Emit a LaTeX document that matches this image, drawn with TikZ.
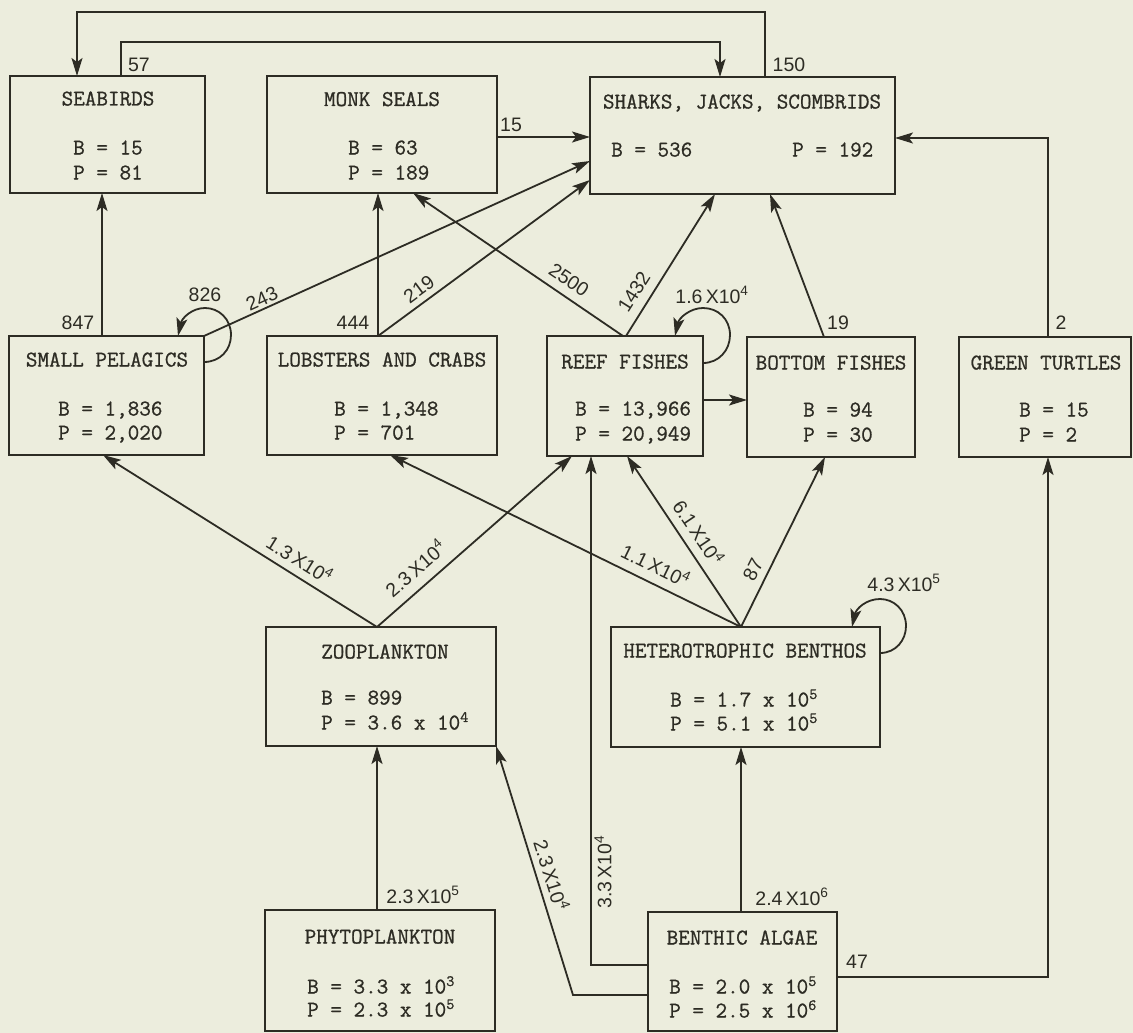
\documentclass[tikz,border=0pt]{standalone}
\usepackage{fontspec}
\newfontfamily\lblfont{Liberation Sans}
\newfontfamily\tyfont[FakeBold=0.9]{Latin Modern Mono}
\usetikzlibrary{arrows.meta}
\definecolor{bg}{RGB}{236,237,221}
\definecolor{ink}{RGB}{45,44,36}
\newcommand\xten[2]{#1\,X10\textsuperscript{#2}}
\begin{document}
\begin{tikzpicture}[x=1pt,y=-1pt,
  box/.style={draw=ink, line width=2.4pt, inner sep=0pt, outer sep=0pt},
  ttl/.style={font=\tyfont\fontsize{22.5}{27}\selectfont, text=ink, inner sep=0pt, anchor=base},
  dat/.style={font=\tyfont\fontsize{22.5}{27}\selectfont, text=ink, inner sep=0pt, anchor=base west},
  lbl/.style={font=\lblfont\fontsize{19.5}{21}\selectfont, text=ink, inner sep=0pt},
  ln/.style={draw=ink, line width=1.8pt},
  arr/.style={draw=ink, line width=1.8pt, -{Stealth[length=18pt,width=11pt,inset=4pt]}}]
\fill[bg] (0,0) rectangle (1133,1033);
\useasboundingbox (0,0) rectangle (1133,1033);

% boxes
\node[box, minimum width=195pt, minimum height=117pt] (sb) at (107.5,134.5) {};
\node[box, minimum width=230pt, minimum height=117pt] (ms) at (382,134.5) {};
\node[box, minimum width=305pt, minimum height=117pt] (sh) at (742.5,135.5) {};
\node[box, minimum width=195pt, minimum height=119pt] (sp) at (106.5,395.5) {};
\node[box, minimum width=230pt, minimum height=119pt] (lc) at (382,395.5) {};
\node[box, minimum width=156pt, minimum height=120pt] (rf) at (625,396) {};
\node[box, minimum width=168pt, minimum height=120pt] (bf) at (831,397) {};
\node[box, minimum width=172pt, minimum height=120pt] (gt) at (1045,397) {};
\node[box, minimum width=230pt, minimum height=119pt] (zp) at (381,686.5) {};
\node[box, minimum width=269pt, minimum height=120pt] (hb) at (745.5,687) {};
\node[box, minimum width=230pt, minimum height=121pt] (ph) at (380,970.5) {};
\node[box, minimum width=189pt, minimum height=119pt] (ba) at (742.5,971.5) {};

% box texts
\node[ttl] (sb-t) at (108,105.5) {SEABIRDS};
\node[dat] (sb-b) at (73,154.5) {B = 15};
\node[dat] (sb-p) at (73,179.5) {P = 81};
\node[ttl] (ms-t) at (382,106) {MONK SEALS};
\node[dat] (ms-b) at (348,154.5) {B = 63};
\node[dat] (ms-p) at (348,179.5) {P = 189};
\node[ttl] (sh-t) at (742,108.5) {SHARKS, JACKS, SCOMBRIDS};
\node[dat] (sh-b) at (611,156.5) {B = 536};
\node[dat] (sh-p) at (792,156.5) {P = 192};
\node[ttl] (sp-t) at (107,366.5) {SMALL PELAGICS};
\node[dat] (sp-b) at (58,415.5) {B = 1,836};
\node[dat] (sp-p) at (58,439.5) {P = 2,020};
\node[ttl] (lc-t) at (382,366.5) {LOBSTERS AND CRABS};
\node[dat] (lc-b) at (334,415.5) {B = 1,348};
\node[dat] (lc-p) at (334,439.5) {P = 701};
\node[ttl] (rf-t) at (625,368.5) {REEF FISHES};
\node[dat] (rf-b) at (575,415.5) {B = 13,966};
\node[dat] (rf-p) at (575,440.5) {P = 20,949};
\node[ttl] (bf-t) at (831,369.5) {BOTTOM FISHES};
\node[dat] (bf-b) at (803,416.5) {B = 94};
\node[dat] (bf-p) at (803,441.5) {P = 30};
\node[ttl] (gt-t) at (1046,369.5) {GREEN TURTLES};
\node[dat] (gt-b) at (1019,416.5) {B = 15};
\node[dat] (gt-p) at (1019,441.5) {P = 2};
\node[ttl] (zp-t) at (385,658.5) {ZOOPLANKTON};
\node[dat] (zp-b) at (321,704.5) {B = 899};
\node[dat] (zp-p) at (321,729.5) {P = 3.6 x 10\textsuperscript{4}};
\node[ttl] (hb-t) at (745,657.5) {HETEROTROPHIC BENTHOS};
\node[dat] (hb-b) at (670,706.5) {B = 1.7 x 10\textsuperscript{5}};
\node[dat] (hb-p) at (670,730.5) {P = 5.1 x 10\textsuperscript{5}};
\node[ttl] (ph-t) at (380,943.5) {PHYTOPLANKTON};
\node[dat] (ph-b) at (307,993.5) {B = 3.3 x 10\textsuperscript{3}};
\node[dat] (ph-p) at (307,1016.5) {P = 2.3 x 10\textsuperscript{5}};
\node[ttl] (ba-t) at (742,944.5) {BENTHIC ALGAE};
\node[dat] (ba-b) at (669,993.5) {B = 2.0 x 10\textsuperscript{5}};
\node[dat] (ba-p) at (669,1017.5) {P = 2.5 x 10\textsuperscript{6}};

% helper coordinates
\coordinate (o1) at (765,12);
\coordinate (o2) at (77,12);
\coordinate (i1) at (121,42);
\coordinate (i2) at (720,42);
\coordinate (y137) at (0,137);
\coordinate (y161) at (0,161);
\coordinate (y180) at (0,180);
\coordinate (gtup) at (1048,138);
\coordinate (x102) at (102,0);
\coordinate (x378) at (378,0);
\coordinate (rfa) at (623,0);
\coordinate (rfb) at (626,0);
\coordinate (msa) at (413,0);
\coordinate (sha) at (715,0);
\coordinate (shb) at (770,0);
\coordinate (bfa) at (824,0);
\coordinate (y400) at (0,400);
\coordinate (zpa) at (377,0);
\coordinate (spa) at (103,0);
\coordinate (rfc) at (572,0);
\coordinate (hba) at (741,0);
\coordinate (lca) at (390,0);
\coordinate (rfd) at (627,0);
\coordinate (bfb) at (825,0);
\coordinate (c33) at (591,965);
\coordinate (c23) at (573,995);
\coordinate (c47) at (1048,977);

% connectors top
\draw[arr] (o1 |- sh.north) -- (o1) -- (o2) -- (o2 |- sb.north);
\draw[arr] (i1 |- sb.north) -- (i1) -- (i2) -- (i2 |- sh.north);
\draw[arr] (ms.east |- y137) -- (sh.west |- y137);
\draw[arr] (gt.north -| gtup) -- (gtup) -- (sh.east |- gtup);
\draw[arr] (sp.north -| x102) -- (sb.south -| x102);
\draw[arr] (lc.north -| x378) -- (ms.south -| x378);
\draw[arr] (sp.north east) -- (sh.west |- y161);
\draw[arr] (lc.north -| x378) -- (sh.west |- y180);
\draw[arr] (rf.north -| rfa) -- (ms.south -| msa);
\draw[arr] (rf.north -| rfb) -- (sh.south -| sha);
\draw[arr] (bf.north -| bfa) -- (sh.south -| shb);
\draw[arr] (rf.east |- y400) -- (bf.west |- y400);

% self loops
\draw[arr] (sp.east |- 0,362) .. controls (220,362) and (231,350) .. (231,335) .. controls (231,319) and (219,308) .. (205,308) .. controls (192,308) and (182,318) .. (178,336);
\draw[arr] (rf.east |- 0,363) .. controls (719,363) and (730,350) .. (730,335) .. controls (730,319) and (718,308) .. (703,308) .. controls (690,308) and (679,318) .. (675,336);
\draw[arr] (hb.east |- 0,653) .. controls (896,653) and (906,640) .. (906,626) .. controls (906,610) and (894,599) .. (880,599) .. controls (866,599) and (856,609) .. (852,627);

% middle connectors
\draw[arr] (zp.north -| zpa) -- (sp.south -| spa);
\draw[arr] (zp.north -| zpa) -- (rf.south -| rfc);
\draw[arr] (hb.north -| hba) -- (lc.south -| lca);
\draw[arr] (hb.north -| hba) -- (rf.south -| rfd);
\draw[arr] (hb.north -| hba) -- (bf.south -| bfb);

% bottom connectors
\draw[arr] (ph.north -| zpa) -- (zp.south -| zpa);
\draw[arr] (ba.north -| hba) -- (hb.south -| hba);
\draw[arr] (ba.west |- c33) -- (c33) -- (rf.south -| c33);
\draw[arr] (ba.west |- c23) -- (c23) -- (zp.south east);
\draw[arr] (ba.east |- c47) -- (c47) -- (gt.south -| c47);

% labels
\node[lbl] (l57) at (139,65) {57};
\node[lbl] (l150) at (789,65) {150};
\node[lbl] (l15) at (511,125) {15};
\node[lbl] (l826) at (205,295) {826};
\node[lbl, rotate=24.5] (l243) at (262,299) {243};
\node[lbl] (l847) at (78,323) {847};
\node[lbl] (l444) at (353,323) {444};
\node[lbl, rotate=36.6] (l219) at (419,289) {219};
\node[lbl, rotate=-34] (l2500) at (569,280) {2500};
\node[lbl, rotate=57.6] (l1432) at (634,292) {1432};
\node[lbl] (l16) at (712,295) {\xten{1.6}{4}};
\node[lbl] (l19) at (838,323) {19};
\node[lbl] (l2) at (1061,323) {2};
\node[lbl, rotate=-32] (l13) at (300,559) {\xten{1.3}{4}};
\node[lbl, rotate=40.9] (l23a) at (415,568) {\xten{2.3}{4}};
\node[lbl, rotate=-26] (l11) at (656,565) {\xten{1.1}{4}};
\node[lbl, rotate=-56] (l61) at (699,532) {\xten{6.1}{4}};
\node[lbl, rotate=63.6] (l87) at (753,570) {87};
\node[lbl] (l43) at (904,583) {\xten{4.3}{5}};
\node[lbl] (l23b) at (423,895) {\xten{2.3}{5}};
\node[lbl] (l24) at (792,897) {\xten{2.4}{6}};
\node[lbl, rotate=90] (l33) at (603,872) {\xten{3.3}{4}};
\node[lbl, rotate=-72.8] (l23c) at (552,875) {\xten{2.3}{4}};
\node[lbl] (l47) at (857,962) {47};
\end{tikzpicture}
\end{document}
